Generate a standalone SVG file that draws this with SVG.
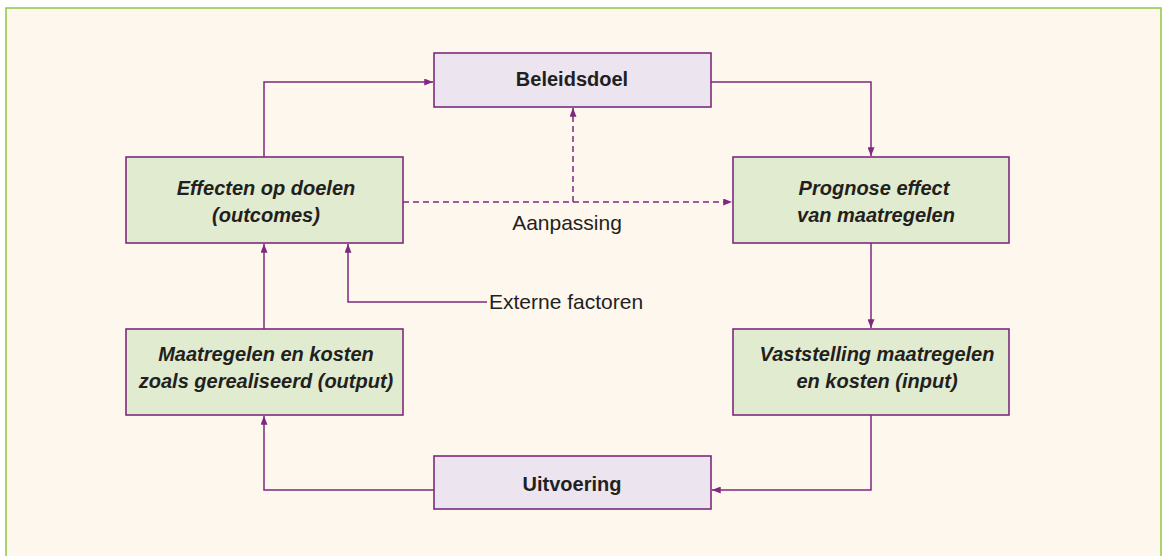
<svg xmlns="http://www.w3.org/2000/svg" width="1162" height="556" viewBox="0 0 1162 556">
  <defs>
    <style>
      .panel { fill: #fef7ee; stroke: #8dc63f; stroke-width: 1.5; }
      .green { fill: #e1ebcf; stroke: #7d2a7e; stroke-width: 1.6; }
      .lilac { fill: #ece5ef; stroke: #7d2a7e; stroke-width: 1.6; }
      .conn { fill: none; stroke: #7d2a7e; stroke-width: 1.5; }
      .dash { stroke-dasharray: 6 4; }
      .t { font-family: "Liberation Sans", Arial, sans-serif; fill: #231f20; text-anchor: middle; }
      .bi { font-size: 20px; font-weight: bold; font-style: italic; }
      .b { font-size: 20px; font-weight: bold; }
      .r { font-size: 21px; }
    </style>
    <marker id="arr" viewBox="0 0 10 8" refX="10" refY="4" markerWidth="9" markerHeight="7" markerUnits="userSpaceOnUse" orient="auto">
      <path d="M0,0 L10,4 L0,8 z" fill="#7d2a7e"/>
    </marker>
  </defs>

  <rect class="panel" x="6" y="8" width="1155" height="560"/>

  <g id="connectors">
    <path class="conn" d="M264,157 V82 H433" marker-end="url(#arr)"/>
    <path class="conn" d="M711,82 H871 V156" marker-end="url(#arr)"/>
    <path class="conn" d="M871,243 V328" marker-end="url(#arr)"/>
    <path class="conn" d="M871,415 V490 H712" marker-end="url(#arr)"/>
    <path class="conn" d="M434,490 H264 V416" marker-end="url(#arr)"/>
    <path class="conn" d="M264,329 V244" marker-end="url(#arr)"/>
    <path class="conn" d="M487,302 H348 V244" marker-end="url(#arr)"/>
    <path class="conn dash" d="M403,202 H732" marker-end="url(#arr)"/>
    <path class="conn dash" d="M573,202 V108" marker-end="url(#arr)"/>
  </g>

  <g id="beleidsdoel">
    <rect class="lilac" x="434" y="53" width="277" height="54"/>
    <text class="t b" x="572" y="86">Beleidsdoel</text>
  </g>

  <g id="effecten">
    <rect class="green" x="126" y="157" width="277" height="86"/>
    <text class="t bi" x="266" y="195">Effecten op doelen</text>
    <text class="t bi" x="266" y="222">(outcomes)</text>
  </g>

  <g id="prognose">
    <rect class="green" x="733" y="157" width="276" height="86"/>
    <text class="t bi" x="874" y="195">Prognose effect</text>
    <text class="t bi" x="876" y="222">van maatregelen</text>
  </g>

  <g id="maatregelen">
    <rect class="green" x="126" y="329" width="277" height="86"/>
    <text class="t bi" x="266" y="361">Maatregelen en kosten</text>
    <text class="t bi" x="266" y="388">zoals gerealiseerd (output)</text>
  </g>

  <g id="vaststelling">
    <rect class="green" x="733" y="329" width="276" height="86"/>
    <text class="t bi" x="877" y="361">Vaststelling maatregelen</text>
    <text class="t bi" x="877" y="388">en kosten (input)</text>
  </g>

  <g id="uitvoering">
    <rect class="lilac" x="434" y="456" width="277" height="53"/>
    <text class="t b" x="572" y="491">Uitvoering</text>
  </g>

  <g id="labels">
    <text class="t r" x="567" y="230">Aanpassing</text>
    <text class="t r" x="489" y="309" style="text-anchor:start">Externe factoren</text>
  </g>
</svg>
